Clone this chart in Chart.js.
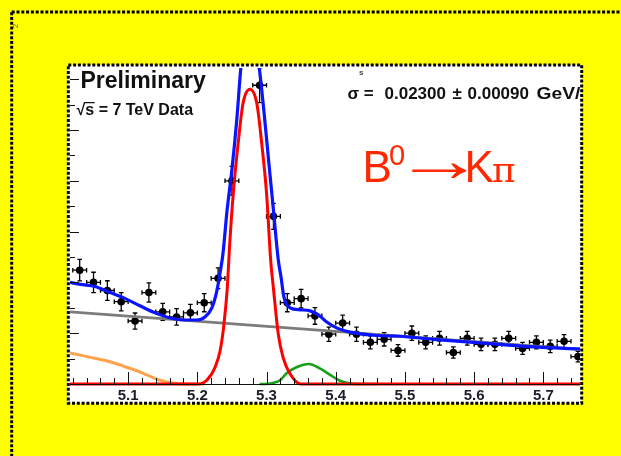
<!DOCTYPE html>
<html>
<head>
<meta charset="utf-8">
<script src="https://cdn.jsdelivr.net/npm/chart.js@4.4.1/dist/chart.umd.min.js"></script>
<style>
  html, body { margin: 0; padding: 0; background: #ffff00; overflow: hidden; }
  #wrap { position: relative; width: 621px; height: 456px; }
</style>
</head>
<body>
<div id="wrap"><canvas id="c" width="621" height="456"></canvas></div>
<script>
// Invariant mass bin centres (GeV/c^2), 0.02 GeV wide bins
const massBins = [5.03, 5.05, 5.07, 5.09, 5.11, 5.13, 5.15, 5.17, 5.19, 5.21,
                  5.23, 5.25, 5.27, 5.29, 5.31, 5.33, 5.35, 5.37, 5.39, 5.41,
                  5.43, 5.45, 5.47, 5.49, 5.51, 5.53, 5.55, 5.57, 5.59, 5.61,
                  5.63, 5.65, 5.67, 5.69, 5.71, 5.73, 5.75];
// Candidates per bin and their statistical uncertainties
const counts = [112, 100, 92, 81, 62, 90, 71, 66, 70, 80,
                104, 200, 365, 294, 165, 80, 84, 67, 49, 60,
                49, 41, 44, 33, 50, 41, 45, 31, 45, 39,
                39, 45, 35, 41, 37, 42, 27];
const countErrors = [10.6, 10.0, 9.6, 9.0, 7.9, 9.5, 8.4, 8.1, 8.4, 8.9,
                     10.2, 14.1, 19.1, 17.1, 12.8, 8.9, 9.2, 8.2, 7.0, 7.7,
                     7.0, 6.4, 6.6, 5.7, 7.1, 6.4, 6.7, 5.6, 6.7, 6.2,
                     6.2, 6.7, 5.9, 6.4, 6.1, 6.5, 5.2];
const binHalfWidth = 0.01;

// Total fit
const totalMass = [5.016, 5.031, 5.052, 5.074, 5.096, 5.117, 5.139, 5.161, 5.182, 5.199,
                   5.211, 5.221, 5.228, 5.233, 5.237, 5.243, 5.250, 5.257, 5.264, 5.276,
                   5.288, 5.296, 5.303, 5.310, 5.317, 5.321, 5.325, 5.334, 5.349, 5.363,
                   5.375, 5.387, 5.402, 5.421, 5.454, 5.493, 5.541, 5.589, 5.638, 5.686, 5.753];
const totalFit = [100, 98, 96, 90, 84, 77, 70, 65, 63, 63,
                  66, 75, 91, 110, 128, 171, 211, 260, 319, 356,
                  319, 270, 220, 171, 122, 105, 86, 75, 73, 72,
                  68, 61, 55, 51, 48, 47, 44, 41.5, 39, 36.5, 34.5];
// B0 -> K pi signal
const signalMass = [5.016, 5.190, 5.201, 5.214, 5.226, 5.233, 5.238, 5.243, 5.247, 5.252,
                    5.259, 5.266, 5.276, 5.286, 5.293, 5.300, 5.306, 5.310, 5.317, 5.324,
                    5.334, 5.349, 5.360, 5.753];
const signalFit = [0, 0, 0, 4, 17, 33, 56, 92, 140, 188,
                   237, 276, 290, 276, 237, 188, 122, 94, 49, 26,
                   10, 0, 0, 0];
// Second, smaller peak
const peak2Mass = [5.290, 5.300, 5.312, 5.320, 5.329, 5.344, 5.361, 5.377, 5.392, 5.406, 5.421, 5.436, 5.460];
const peak2Fit = [0, 0, 1.5, 4, 10.5, 16.7, 19.7, 15.4, 8.9, 3.2, 0.5, 0, 0];
// Partially reconstructed background
const partRecoMass = [5.016, 5.050, 5.075, 5.097, 5.121, 5.145, 5.164, 5.185, 5.210];
const partRecoFit = [30.5, 25.6, 21.6, 16.7, 10.8, 3.9, 1, 0, 0];
// Combinatorial background
const combMass = [5.016, 5.753];
const combFit = [71, 34];

const xTickLabels = ['5.1', '5.2', '5.3', '5.4', '5.5', '5.6', '5.7'];

const SANS = '"Liberation Sans", Arial, Helvetica, sans-serif';

function pairs(xs, ys) { return xs.map((x, i) => ({ x: x, y: ys[i] })); }

function curve(label, xs, ys, color, width, order) {
  return {
    type: 'line', label: label, data: pairs(xs, ys),
    borderColor: color, borderWidth: width, pointRadius: 0, fill: false,
    cubicInterpolationMode: 'monotone', order: order,
    clip: { left: 0, top: 0, right: 0, bottom: 3 }
  };
}

const framePlugin = {
  id: 'frame',
  beforeDraw(chart) {
    const c = chart.ctx;
    c.save();
    c.fillStyle = '#ffff00';
    c.fillRect(0, 0, chart.width, chart.height);
    c.fillStyle = '#ffffff';
    c.fillRect(68, 65, 513.7, 338.3);
    c.strokeStyle = '#000';
    c.lineWidth = 3;
    c.setLineDash([3, 1.8]);
    c.strokeRect(11.7, 12, 700, 600);
    c.restore();
  },
  beforeDatasetsDraw(chart) {
    // error bars of the data points
    const c = chart.ctx, xs = chart.scales.x, ys = chart.scales.y, a = chart.chartArea;
    c.save();
    c.beginPath();
    c.rect(a.left, a.top, a.right - a.left, a.bottom - a.top);
    c.clip();
    c.strokeStyle = '#000';
    c.lineWidth = 1.3;
    const cap = 2.3;
    massBins.forEach((m, i) => {
      const px = xs.getPixelForValue(m);
      const py = ys.getPixelForValue(counts[i]);
      const x0 = xs.getPixelForValue(m - binHalfWidth);
      const x1 = xs.getPixelForValue(m + binHalfWidth);
      const y0 = ys.getPixelForValue(counts[i] - countErrors[i]);
      const y1 = ys.getPixelForValue(counts[i] + countErrors[i]);
      c.beginPath();
      c.moveTo(x0, py); c.lineTo(x1, py);
      c.moveTo(x0, py - cap); c.lineTo(x0, py + cap);
      c.moveTo(x1, py - cap); c.lineTo(x1, py + cap);
      c.moveTo(px, y0); c.lineTo(px, y1);
      c.moveTo(px - cap, y0); c.lineTo(px + cap, y0);
      c.moveTo(px - cap, y1); c.lineTo(px + cap, y1);
      c.stroke();
    });
    c.restore();
  },
  afterDraw(chart) {
    const c = chart.ctx, xs = chart.scales.x, ys = chart.scales.y, a = chart.chartArea;
    c.save();
    // axis line and ticks
    c.strokeStyle = '#111';
    c.lineWidth = 1;
    c.beginPath();
    c.moveTo(a.left, a.bottom + 0.5); c.lineTo(a.right, a.bottom + 0.5);
    for (let k = 0; k <= 40; k++) {
      const m = 5.0 + k * 0.02;
      if (m < xs.min || m > xs.max) continue;
      const px = Math.round(xs.getPixelForValue(m)) + 0.5;
      const major = k % 5 === 0;
      c.moveTo(px, a.bottom); c.lineTo(px, a.bottom - (major ? 12 : 6));
    }
    for (let v = 0; v <= ys.max; v += 25) {
      const py = Math.round(ys.getPixelForValue(v)) + 0.5;
      const major = v % 50 === 0;
      c.moveTo(a.left, py); c.lineTo(a.left + (major ? 9 : 5), py);
    }
    c.stroke();
    // x tick labels
    c.fillStyle = '#1c1c2a';
    c.font = 'bold 15px ' + SANS;
    c.textAlign = 'center';
    c.textBaseline = 'middle';
    xTickLabels.forEach(t => {
      c.fillText(t, xs.getPixelForValue(parseFloat(t)), 396);
    });
    // texts inside the frame
    c.save();
    c.beginPath();
    c.rect(70, 67, 510.5, 335);
    c.clip();
    c.textAlign = 'left';
    c.textBaseline = 'alphabetic';
    c.fillStyle = '#111';
    c.font = 'bold 23px ' + SANS;
    c.fillText('Preliminary', 80.5, 88.3);
    c.font = 'bold 16px ' + SANS;
    const rad = '\u221A';
    const rw = c.measureText(rad).width;
    const sw = c.measureText('s').width;
    c.fillText(rad + 's = 7 TeV Data', 76.5, 115);
    c.lineWidth = 1.3;
    c.beginPath();
    c.moveTo(76.5 + rw - 1.2, 102.6); c.lineTo(76.5 + rw + sw + 0.5, 102.6);
    c.stroke();
    c.font = 'bold 17px ' + SANS;
    c.fillText('\u03C3 =', 347.5, 99.3);
    c.fillText('0.02300', 384.5, 99.3);
    c.fillText('\u00B1', 452.5, 99.3);
    c.fillText('0.00090', 467.5, 99.3);
    c.save();
    c.translate(536.5, 99.3);
    c.scale(1.13, 1);
    c.fillText('GeV/c', 0, 0);
    c.restore();
    c.fillStyle = '#444';
    c.font = 'bold 8px ' + SANS;
    c.fillText('s', 359, 74.5);
    // decay label
    c.fillStyle = '#ff2800';
    c.font = '44px ' + SANS;
    c.fillText('B', 362.5, 181.7);
    c.font = '29px ' + SANS;
    c.fillText('0', 389, 165);
    c.font = '62px ' + SANS;
    const am = c.measureText('\u2192');
    const inkL = -am.actualBoundingBoxLeft, inkR = am.actualBoundingBoxRight;
    const inkMid = (am.actualBoundingBoxAscent - am.actualBoundingBoxDescent) / 2;
    const sx = 56 / Math.max(1, inkR - inkL);
    c.save();
    c.translate(411 - inkL * sx, 170 + inkMid);
    c.scale(sx, 1);
    c.fillText('\u2192', 0, 0);
    c.restore();
    c.font = '44px ' + SANS;
    c.fillText('K', 464.5, 181.7);
    c.font = '36px "DejaVu Serif", "Liberation Serif", serif';
    c.fillText('\u03C0', 492, 181.7);
    c.restore();
    // stray glyph on the outer frame
    c.save();
    c.translate(16, 26);
    c.rotate(-Math.PI / 2);
    c.fillStyle = '#555';
    c.font = '8px ' + SANS;
    c.textAlign = 'center';
    c.fillText('2', 0, 0);
    c.restore();
    // inner dotted frame
    c.strokeStyle = '#000';
    c.lineWidth = 3;
    c.setLineDash([3, 1.8]);
    c.strokeRect(68.3, 65, 513.4, 338.3);
    c.restore();
  }
};

new Chart(document.getElementById('c'), {
  data: {
    datasets: [
      curve('total fit', totalMass, totalFit, '#0a14ff', 3.2, 1),
      curve('B0 signal', signalMass, signalFit, '#ff0000', 3, 2),
      curve('second peak', peak2Mass, peak2Fit, '#16a016', 2.6, 3),
      curve('partially reconstructed', partRecoMass, partRecoFit, '#ffa24c', 3, 4),
      curve('combinatorial', combMass, combFit, '#7c7c7c', 2.8, 5),
      {
        type: 'scatter', label: 'Data', data: pairs(massBins, counts),
        pointRadius: 3.8, pointHoverRadius: 3.8, pointStyle: 'circle',
        backgroundColor: '#000', borderWidth: 0, order: 10, clip: 0
      }
    ]
  },
  options: {
    responsive: false,
    devicePixelRatio: 1,
    animation: false,
    events: [],
    layout: { padding: { left: 70, top: 68, right: 41, bottom: 72 } },
    scales: {
      x: { type: 'linear', min: 5.016, max: 5.753, display: false },
      y: { type: 'linear', min: 0, max: 311, display: false }
    },
    plugins: { legend: { display: false }, tooltip: { enabled: false } }
  },
  plugins: [framePlugin]
});
</script>
</body>
</html>
